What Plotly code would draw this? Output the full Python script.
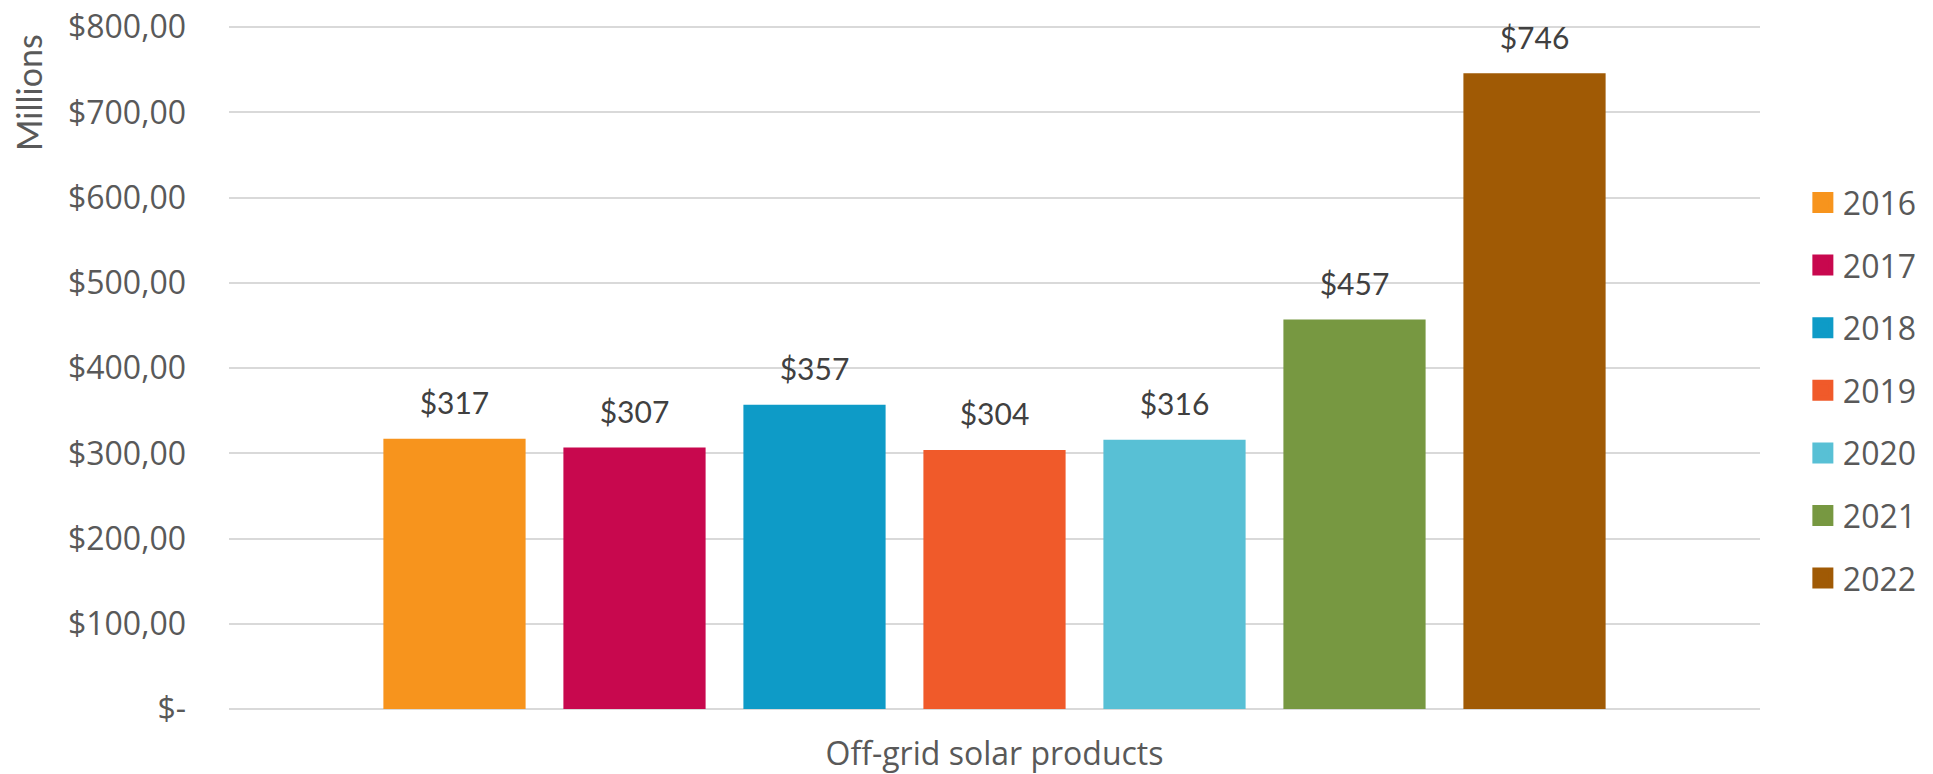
import plotly.graph_objects as go

category = ["Off-grid solar products"]
years = ["2016", "2017", "2018", "2019", "2020", "2021", "2022"]
values = [317, 307, 357, 304, 316, 457, 746]
colors = ["#F7941D", "#C8084E", "#0E9BC7", "#F05A2A", "#58C0D5", "#779841", "#A05A05"]
tick_vals = [0, 100, 200, 300, 400, 500, 600, 700, 800]
tick_text = ["$-", "$100,00", "$200,00", "$300,00", "$400,00", "$500,00", "$600,00", "$700,00", "$800,00"]

fig = go.Figure()
for yr, v, c in zip(years, values, colors):
    # bar
    fig.add_trace(go.Bar(
        x=category, y=[v], name=yr, marker=dict(color=c, line=dict(width=0)),
        offsetgroup=yr, legendgroup=yr, showlegend=False,
    ))
    # value label above the bar
    fig.add_trace(go.Scatter(
        x=category, y=[v], mode="markers+text", text=[f"${v}"],
        textposition="top center", cliponaxis=False,
        marker=dict(size=26, opacity=0, color=c),
        textfont=dict(family="Lato", size=30, color="#404040"),
        offsetgroup=yr, legendgroup=yr, showlegend=False, hoverinfo="skip",
    ))
    # legend entry (square swatch)
    fig.add_trace(go.Scatter(
        x=[None], y=[None], mode="markers", name=yr,
        marker=dict(symbol="square", size=16, color=c, line=dict(color=c, width=5)),
        offsetgroup=yr, legendgroup=yr, showlegend=True,
    ))

fig.update_layout(
    width=1933, height=774,
    paper_bgcolor="white", plot_bgcolor="white",
    margin=dict(l=229, r=173, t=26, b=65, autoexpand=False),
    barmode="group", bargap=0.177, bargroupgap=0.21,
    scattermode="group", scattergap=0.177,
    font=dict(family="Open Sans", color="#595959"),
    legend=dict(
        x=1.028, xanchor="left", xref="paper", y=0.466, yanchor="middle",
        font=dict(family="Open Sans", size=32, color="#595959"),
        tracegroupgap=18, itemwidth=30,
    ),
    showlegend=True,
)
fig.update_yaxes(
    range=[0, 801.5], tickvals=tick_vals, ticktext=tick_text,
    tickfont=dict(family="Open Sans", size=32, color="#595959"),
    showgrid=True, gridcolor="#D9D9D9", gridwidth=1.5,
    zeroline=True, zerolinecolor="#D9D9D9", zerolinewidth=1.5,
    showline=False, ticks="", ticklabelstandoff=42, automargin=False,
    ticklabeloverflow="allow",
)
fig.update_xaxes(
    tickfont=dict(family="Open Sans", size=32, color="#595959"),
    showline=False, ticks="", showgrid=False, ticklabelstandoff=23,
    automargin=False,
)
fig.add_annotation(
    text="Millions", textangle=-90, xref="paper", yref="paper",
    x=-0.1306, y=0.902, xanchor="center", yanchor="middle", showarrow=False,
    font=dict(family="Lato", size=34, color="#595959"),
)
fig.write_html("out.html", config={"displayModeBar": False},
               post_script="document.body.style.margin='0';")
